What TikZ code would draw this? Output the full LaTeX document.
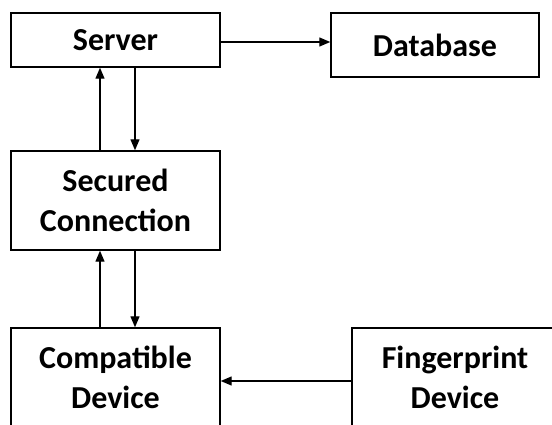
\documentclass[tikz,border=0pt]{standalone}
\usepackage{fontspec}
\setmainfont{Carlito}
\usetikzlibrary{arrows.meta}

\begin{document}
\begin{tikzpicture}[
  x=1pt, y=-1pt,
  box/.style={draw, line width=1.4pt, align=center, inner sep=0pt,
              minimum width=209pt,
              font=\fontsize{32}{40}\selectfont\bfseries},
  flow/.style={-{Triangle[length=11pt,width=9pt]}, line width=1.3pt},
]

% --- page frame (boxes run off the bottom and right edges) ---
\useasboundingbox (0,0) rectangle (552,425);
\clip (0,0) rectangle (552,425);

% --- top row ---
\node[box, minimum height=54pt] (srv) at (115.5,40) {Server};
\node[box, minimum width=208pt, minimum height=64pt] (db) at (435,45) {Database};

% --- middle ---
\node[box, minimum height=99pt] (sec) at (115.5,200.5) {Secured\\Connection};

% --- bottom row ---
\node[box, minimum height=98pt] (cd) at (115.5,377) {Compatible\\Device};
\node[box, minimum width=206pt, minimum height=98pt] (fp) at (455,377) {Fingerprint\\Device};

% --- connectors ---
\draw[flow] ([yshift=-2pt]srv.east) -- ([yshift=-2pt]srv.east -| db.west);
\draw[flow] ([xshift=-15.5pt]sec.north) -- ([xshift=-15.5pt]srv.south);
\draw[flow] ([xshift=19.5pt]srv.south) -- ([xshift=19.5pt]sec.north);
\draw[flow] ([xshift=-15.5pt]cd.north) -- ([xshift=-15.5pt]sec.south);
\draw[flow] ([xshift=19.5pt]sec.south) -- ([xshift=19.5pt]cd.north);
\draw[flow] ([yshift=-4pt]fp.west) -- ([yshift=-4pt]cd.east);

\end{tikzpicture}
\end{document}
